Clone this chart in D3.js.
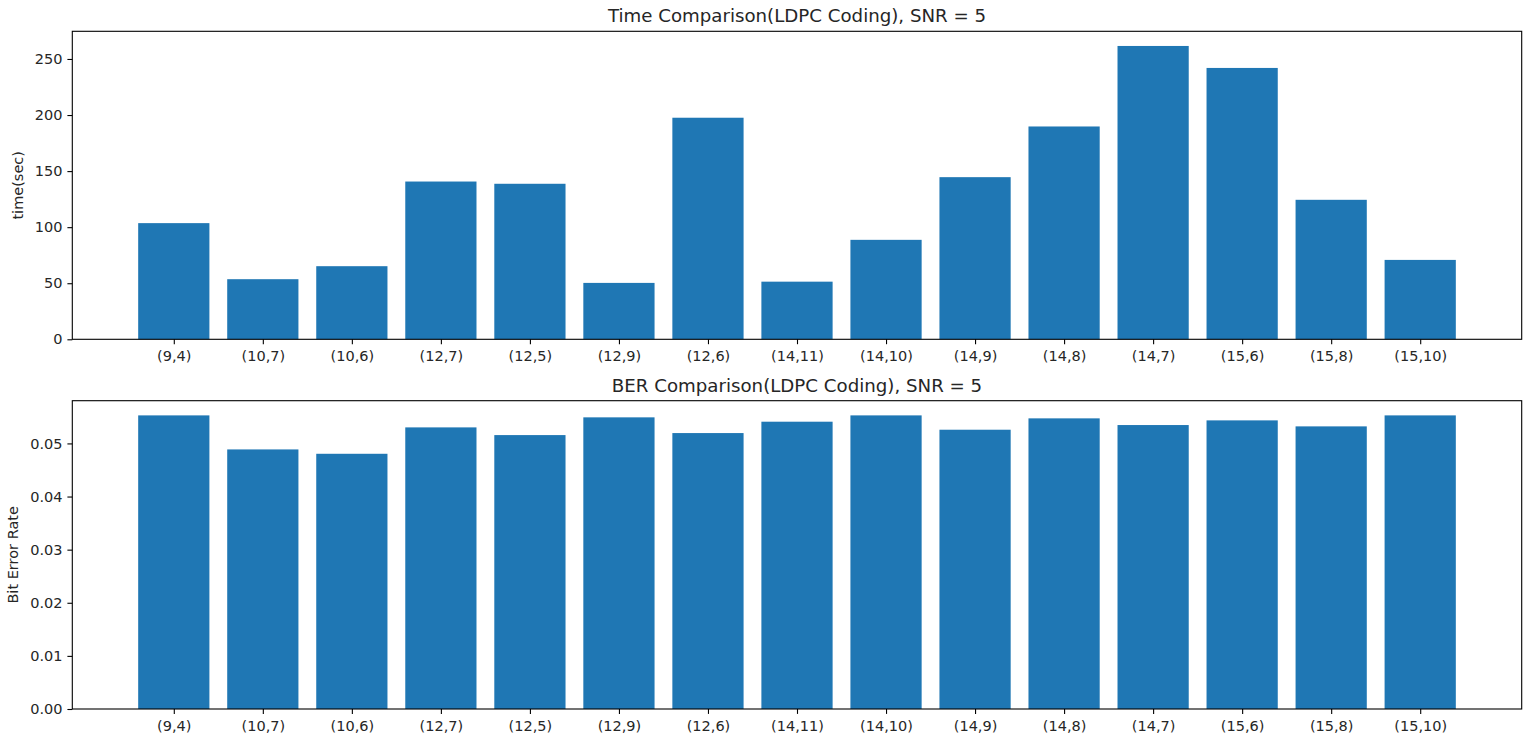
<!DOCTYPE html>
<html>
<head>
<meta charset="utf-8">
<script src="https://cdn.jsdelivr.net/npm/d3@7"></script>
<style>
  html, body { margin: 0; padding: 0; background: #fff; }
  svg { display: block; font-family: "DejaVu Sans", sans-serif; }
</style>
</head>
<body>
<svg id="chart" width="1526" height="743"></svg>
<script>
const categories = ["(9,4)", "(10,7)", "(10,6)", "(12,7)", "(12,5)", "(12,9)", "(12,6)", "(14,11)", "(14,10)", "(14,9)", "(14,8)", "(14,7)", "(15,6)", "(15,8)", "(15,10)"];
const timeValues = [103.6, 53.6, 65.2, 140.7, 138.7, 50.3, 197.6, 51.4, 88.7, 144.6, 189.8, 261.6, 242.0, 124.4, 70.8];
const berValues = [0.05528, 0.04887, 0.04805, 0.05302, 0.05157, 0.05491, 0.05195, 0.05409, 0.05528, 0.05258, 0.05472, 0.05346, 0.05434, 0.05321, 0.05528];
const timeTicks = [0, 50, 100, 150, 200, 250];
const berTicks = [0, 0.01, 0.02, 0.03, 0.04, 0.05];

const svg = d3.select("#chart");
const barColor = "#1f77b4";
const left = 72.3, right = 1521.7;
const tickFont = "14.5px";

const panels = [
  { title: "Time Comparison(LDPC Coding), SNR = 5", ylabel: "time(sec)", values: timeValues, ticks: timeTicks, fmt: d3.format("d"), top: 31.3, bottom: 339.3, ylabelX: 17.5 },
  { title: "BER Comparison(LDPC Coding), SNR = 5", ylabel: "Bit Error Rate", values: berValues, ticks: berTicks, fmt: d3.format(".2f"), top: 400.7, bottom: 709, ylabelX: 12.5 }
];

const n = categories.length;
const dmin = -0.4, dmax = n - 1 + 0.4, span = dmax - dmin;
const x = d3.scaleLinear().domain([dmin - 0.05 * span, dmax + 0.05 * span]).range([left, right]);

panels.forEach(p => {
  const ymax = d3.max(p.values) * 1.05;
  const y = d3.scaleLinear().domain([0, ymax]).range([p.bottom, p.top]);
  const g = svg.append("g");

  g.selectAll("rect.bar").data(p.values).join("rect")
    .attr("class", "bar")
    .attr("x", (d, i) => x(i - 0.4))
    .attr("width", (d, i) => x(i + 0.4) - x(i - 0.4))
    .attr("y", d => y(d))
    .attr("height", d => y(0) - y(d))
    .attr("fill", barColor);

  const yAxis = d3.axisLeft(y).tickValues(p.ticks).tickFormat(p.fmt).tickSize(4.9).tickPadding(4.9);
  const ya = g.append("g").attr("transform", `translate(${left},0)`).call(yAxis);
  ya.select(".domain").remove();
  ya.selectAll("line").attr("stroke", "#000").attr("stroke-width", 1.1);
  ya.selectAll("text").attr("font-size", tickFont).attr("fill", "#262626").attr("font-family", "DejaVu Sans, sans-serif");

  const xAxis = d3.axisBottom(x).tickValues(d3.range(n)).tickFormat(i => categories[i]).tickSize(4.9).tickPadding(6.5);
  const xa = g.append("g").attr("transform", `translate(0,${p.bottom})`).call(xAxis);
  xa.select(".domain").remove();
  xa.selectAll("line").attr("stroke", "#000").attr("stroke-width", 1.1);
  xa.selectAll("text").attr("font-size", tickFont).attr("fill", "#262626").attr("font-family", "DejaVu Sans, sans-serif");

  g.append("rect")
    .attr("x", left).attr("y", p.top)
    .attr("width", right - left).attr("height", p.bottom - p.top)
    .attr("fill", "none").attr("stroke", "#000").attr("stroke-width", 1.1);

  g.append("text")
    .attr("x", (left + right) / 2).attr("y", p.top - 9)
    .attr("text-anchor", "middle")
    .attr("font-size", "18.2px").attr("fill", "#262626")
    .text(p.title);

  g.append("text")
    .attr("transform", `translate(${p.ylabelX},${(p.top + p.bottom) / 2}) rotate(-90)`)
    .attr("text-anchor", "middle")
    .attr("dy", "0.35em")
    .attr("font-size", tickFont).attr("fill", "#262626")
    .text(p.ylabel);
});
</script>
</body>
</html>
